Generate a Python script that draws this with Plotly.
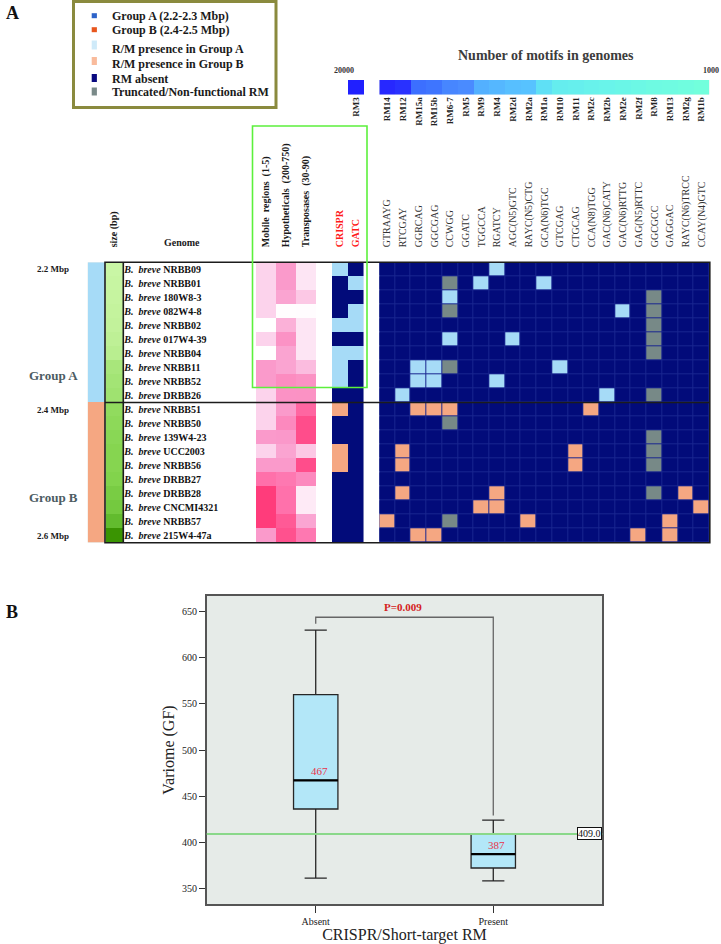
import plotly.graph_objects as go

W, H = 721, 944
SERIF = "Liberation Serif, Times New Roman, serif"

# ---------------- data ----------------
genomes = ["NRBB09", "NRBB01", "180W8-3", "082W4-8", "NRBB02", "017W4-39", "NRBB04",
           "NRBB11", "NRBB52", "DRBB26", "NRBB51", "NRBB50", "139W4-23", "UCC2003",
           "NRBB56", "DRBB27", "DRBB28", "CNCMI4321", "NRBB57", "215W4-47a"]
groups = ["A"] * 10 + ["B"] * 10
genome_size_mbp = [2.24, 2.25, 2.26, 2.27, 2.28, 2.29, 2.30, 2.34, 2.35, 2.36,
                   2.40, 2.41, 2.42, 2.43, 2.43, 2.44, 2.46, 2.47, 2.51, 2.60]
mobile_regions = [2, 2, 2, 2, 1, 2, 1, 3, 3, 2, 2, 2, 3, 2, 3, 4, 5, 5, 5, 3]
hypotheticals = [475, 475, 450, 205, 420, 500, 450, 450, 520, 500,
                 475, 530, 480, 450, 475, 585, 610, 610, 670, 695]
transposases = [39, 39, 48, 31, 39, 39, 39, 51, 63, 63,
                78, 85, 85, 48, 85, 66, 37, 37, 57, 72]
pink_labels = ["Mobile\u00a0\u00a0regions\u00a0\u00a0(1-5)",
               "Hypotheticals\u00a0\u00a0(200-750)",
               "Transposases\u00a0\u00a0(30-90)"]
pink_ranges = [(1, 5), (200, 750), (30, 90)]

crispr_gatc_labels = ["CRISPR", "GATC"]
motifs = ["GTRAAYG", "RTCGAY", "GGRCAG", "GGCGAG", "CCWGG", "GGATC", "TGGCCA", "RGATCY",
          "AGC(N5)GTC", "RAYC(N5)CTG", "GCA(N6)TGC", "GTCGAG", "CTGCAG", "CCA(N8)TGG",
          "GAC(N6)CATY", "GAC(N6)RTTG", "GAG(N5)RTTC", "GGCGCC", "GAGGAC",
          "RAYC(N6)TRCC", "CCAY(N4)GTC"]
rm_names = ["RM14", "RM12", "RM15a", "RM15b", "RM6-7", "RM5", "RM9", "RM4", "RM2d", "RM2a",
            "RM1a", "RM10", "RM11", "RM2c", "RM2b", "RM2e", "RM2f", "RM8", "RM13", "RM2g", "RM1b"]
motif_counts = [18000, 17500, 14000, 13500, 12000, 11500, 9000, 8500, 8000, 7800,
                5500, 4000, 3800, 3400, 3200, 2800, 2500, 2000, 1800, 1400, 1000]
rm3_name = "RM3"
rm3_count = 20000

# P = present, T = truncated/non-functional, . = absent  (CRISPR, GATC | 21 motifs)
crispr_gatc_state = ["P.", ".P", "..", ".P", "PP", "..", "PP", "P.", "P.", "..",
                     "P.", "..", "..", "P.", "P.", "..", "..", "..", "..", ".."]
motif_state = [
    ".......P.............",
    "....T.P...P..........",
    "....P............T...",
    "....T..........P.T...",
    ".................T...",
    "....P...P........T...",
    ".................T...",
    "..PPT......P.........",
    "..PP...P.............",
    ".P............P..T...",
    "..PPP........P.......",
    "....T................",
    ".................T...",
    ".P..........P....T...",
    ".P..........P....T...",
    ".....................",
    ".P.....P.........T.P.",
    "......PP............P",
    "P...T....P........P..",
    "..PP............P.P..",
]

box_groups = ["Absent", "Present"]
box_q1 = [436, 372]
box_median = [467, 387]
box_q3 = [560, 409]
box_low = [361, 358]
box_high = [630, 424]
ref_value = 409.0
p_text = "P=0.009"
bracket_y = [637, 644, 644, 429]
BOX_W = 0.25

# ---------------- colours ----------------
NAVY = "#020b7a"
LBLUE = "#a6dbf7"
SALMON = "#f5a782"
GRAY = "#778987"
state_scale = [[0, NAVY], [1 / 6, NAVY], [1 / 6, LBLUE], [0.5, LBLUE],
               [0.5, SALMON], [5 / 6, SALMON], [5 / 6, GRAY], [1, GRAY]]
pink_scale = [[0, "#ffffff"], [0.25, "#fcd3ec"], [0.5, "#fa9acb"], [0.75, "#ff70aa"], [1, "#ff3c7b"]]
green_scale = [[0, "#d0faae"], [0.2, "#c2f29b"], [0.4, "#9fe270"], [0.6, "#82d34c"],
               [0.8, "#5db82a"], [1, "#3a9402"]]
motif_scale = [[0, "#72ffdc"], [0.1, "#6af6e8"], [0.22, "#60e4f4"], [0.35, "#58c4ff"],
               [0.55, "#4a8cff"], [0.7, "#3a6cff"], [0.9, "#2626ff"], [1, "#2020ff"]]


def code(ch, grp):
    if ch == "T":
        return 3
    if ch == "P":
        return 1 if grp == "A" else 2
    return 0


def px(x):
    return x / W


def py(y):
    return 1 - y / H


def xd(a, b):
    return [a / W, b / W]


def yd(top, bottom):
    return [1 - bottom / H, 1 - top / H]


ROW_TOP, ROW_BOT = 262.3, 542.7

fig = go.Figure()

# group column
fig.add_trace(go.Heatmap(x=["grp"], y=genomes, z=[[1 if g == "A" else 2] for g in groups],
                         colorscale=state_scale, zmin=0, zmax=3, showscale=False,
                         xaxis="x", yaxis="y", hoverinfo="skip"))
# size column
fig.add_trace(go.Heatmap(x=["size\u00a0(bp)"], y=genomes, z=[[s] for s in genome_size_mbp],
                         colorscale=green_scale, zmin=2.2, zmax=2.6, showscale=False,
                         xaxis="x2", yaxis="y", hoverinfo="skip"))
# pink columns: each column scaled to its own range
pink_values = [mobile_regions, hypotheticals, transposases]
pink_z = [[(pink_values[j][i] - pink_ranges[j][0]) / (pink_ranges[j][1] - pink_ranges[j][0])
           for j in range(3)] for i in range(len(genomes))]
fig.add_trace(go.Heatmap(x=pink_labels, y=genomes, z=pink_z,
                         colorscale=pink_scale, zmin=0, zmax=1, showscale=False,
                         xaxis="x3", yaxis="y", hoverinfo="skip"))
# CRISPR / GATC
fig.add_trace(go.Heatmap(x=crispr_gatc_labels, y=genomes,
                         z=[[code(c, g) for c in row] for row, g in zip(crispr_gatc_state, groups)],
                         colorscale=state_scale, zmin=0, zmax=3, showscale=False,
                         xaxis="x4", yaxis="y", hoverinfo="skip"))
# motifs
fig.add_trace(go.Heatmap(x=motifs, y=genomes,
                         z=[[code(c, g) for c in row] for row, g in zip(motif_state, groups)],
                         colorscale=state_scale, zmin=0, zmax=3, showscale=False,
                         xgap=1, ygap=1, xaxis="x5", yaxis="y", hoverinfo="skip"))
# motif count strip
fig.add_trace(go.Heatmap(x=rm_names, y=["n"], z=[motif_counts], colorscale=motif_scale,
                         zmin=1000, zmax=20000, showscale=False, xaxis="x6", yaxis="y2",
                         hoverinfo="skip"))
fig.add_trace(go.Heatmap(x=[rm3_name], y=["n"], z=[[rm3_count]], colorscale=motif_scale,
                         zmin=1000, zmax=20000, showscale=False, xaxis="x7", yaxis="y2",
                         hoverinfo="skip"))

# ---------------- box plot ----------------
for i, gname in enumerate(box_groups):
    fig.add_trace(go.Box(x=[gname], q1=[box_q1[i]], median=[box_median[i]], q3=[box_q3[i]],
                         lowerfence=[box_low[i]], upperfence=[box_high[i]],
                         fillcolor="#b3e7f8", line=dict(color="#262626", width=1.3),
                         width=BOX_W, whiskerwidth=0.5, boxpoints=False,
                         xaxis="x8", yaxis="y3", hoverinfo="skip"))
fig.add_trace(go.Scatter(x=["Absent", "Absent", "Present", "Present"], y=bracket_y,
                         mode="lines", line=dict(color="#666666", width=1.3),
                         xaxis="x8", yaxis="y3", hoverinfo="skip"))

tf_bold = dict(family=SERIF, size=10, color="#1a1a1a", weight="bold")
top_axis_common = dict(type="category", side="top", anchor="y", tickangle=-90,
                       ticks="outside", ticklen=12, tickcolor="rgba(0,0,0,0)",
                       showgrid=False, zeroline=False, showline=False, fixedrange=True)

fig.update_layout(
    width=W, height=H, margin=dict(l=0, r=0, t=0, b=0), autosize=False,
    paper_bgcolor="white", plot_bgcolor="#e6ebe8", showlegend=False,
    yaxis=dict(domain=yd(ROW_TOP, ROW_BOT), type="category", autorange="reversed",
               anchor="free", position=px(123.3), side="right", ticks="",
               tickvals=genomes,
               ticktext=["<i>B.\u00a0\u00a0breve</i>\u00a0" + g for g in genomes],
               tickfont=dict(family=SERIF, size=10, color="#111", weight="bold"),
               showgrid=False, zeroline=False, showline=False),
    xaxis=dict(domain=xd(87.7, 105), anchor="y", type="category", showticklabels=False,
               ticks="", showgrid=False, zeroline=False),
    xaxis2=dict(domain=xd(105.5, 123), tickfont=tf_bold, **top_axis_common),
    xaxis3=dict(domain=xd(256, 316), tickfont=tf_bold, categoryorder="array",
                categoryarray=pink_labels, **top_axis_common),
    xaxis4=dict(domain=xd(332, 363.5), tickfont=dict(family=SERIF, size=10, color="#ff1a1a",
                                                     weight="bold"), **top_axis_common),
    xaxis5=dict(domain=xd(379.3, 709.3), tickfont=dict(family=SERIF, size=10, color="#333"),
                **top_axis_common),
    yaxis2=dict(domain=yd(80, 94.5), anchor="x6", type="category", showticklabels=False,
                ticks="", showgrid=False, zeroline=False),
    xaxis6=dict(domain=xd(379.3, 709.3), anchor="y2", type="category", tickangle=-90,
                ticks="", tickfont=dict(family=SERIF, size=9, color="#222", weight="bold"),
                showgrid=False, zeroline=False),
    xaxis7=dict(domain=xd(348, 364), anchor="y2", type="category", tickangle=-90,
                ticks="", tickfont=dict(family=SERIF, size=9, color="#222", weight="bold"),
                showgrid=False, zeroline=False),
    xaxis8=dict(domain=xd(206.7, 602.3), anchor="y3", type="category",
                categoryorder="array", categoryarray=box_groups, range=[-0.614, 1.614],
                showline=True, mirror=True, linecolor="#555", linewidth=1.6,
                ticks="outside", ticklen=7, tickcolor="#333", showgrid=False, zeroline=False,
                tickfont=dict(family=SERIF, size=10, color="#222"),
                title=dict(text="CRISPR/Short-target RM", standoff=4,
                           font=dict(family=SERIF, size=16, color="#222"))),
    yaxis3=dict(domain=yd(595.7, 904.3), anchor="x8", range=[332.6, 667.4],
                tickvals=[350, 400, 450, 500, 550, 600, 650],
                showline=True, mirror=True, linecolor="#555", linewidth=1.6,
                ticks="outside", ticklen=6, tickcolor="#333", showgrid=False, zeroline=False,
                tickfont=dict(family=SERIF, size=10, color="#222"),
                title=dict(text="Variome\u00a0(GF)", standoff=3,
                           font=dict(family=SERIF, size=16, color="#222"))),
)

shapes = []
annotations = []

# background under motif grid (grid lines)
shapes.append(dict(type="rect", xref="x5 domain", yref="y domain", x0=0, x1=1, y0=0, y1=1,
                   fillcolor="#1a2690", line=dict(width=0), layer="below"))
# frame around genome table
shapes.append(dict(type="rect", xref="paper", yref="y domain", x0=px(105), x1=px(709.8),
                   y0=0, y1=1, line=dict(color="#1c1c1c", width=1.6)))
shapes.append(dict(type="line", xref="paper", yref="y domain", x0=px(123.3), x1=px(123.3),
                   y0=0, y1=1, line=dict(color="#1c1c1c", width=1.6)))
# group separator
sep = groups.index("B") - 0.5
shapes.append(dict(type="line", xref="paper", yref="y", x0=px(105), x1=px(709.8),
                   y0=sep, y1=sep, line=dict(color="#1c1c1c", width=1.6)))
# green highlight box
shapes.append(dict(type="rect", xref="paper", yref="paper", x0=px(252.5), x1=px(367),
                   y0=py(387.5), y1=py(126), line=dict(color="#5cf03c", width=1.6)))
# legend box
shapes.append(dict(type="rect", xref="paper", yref="paper", x0=px(73.5), x1=px(276),
                   y0=py(107.5), y1=py(1.5), line=dict(color="#8a8a3e", width=3)))

legend_items = [
    ("Group A (2.2-2.3 Mbp)", "#2d63c9", 15.7, 5, 15.5),
    ("Group B (2.4-2.5 Mbp)", "#e8561e", 29.7, 5, 29.5),
    ("R/M presence in Group A", "#cfeaf9", 45, 9, 48.5),
    ("R/M presence in Group B", "#f9bb9c", 61, 8, 64),
    ("RM absent", "#0a0a80", 78, 8, 78.7),
    ("Truncated/Non-functional RM", "#7a8a89", 91.5, 8, 92.3),
]
for text, col, sy, sh, ty in legend_items:
    shapes.append(dict(type="rect", xref="paper", yref="paper", x0=px(91.7), x1=px(96.9),
                       y0=py(sy + sh / 2), y1=py(sy - sh / 2), fillcolor=col, line=dict(width=0)))
    annotations.append(dict(xref="paper", yref="paper", x=px(110), y=py(ty), text=text,
                            xanchor="left", yanchor="middle", showarrow=False,
                            font=dict(family=SERIF, size=12, color="#1a1a1a", weight="bold")))

# reference line in box plot
shapes.append(dict(type="line", xref="x8 domain", yref="y3", x0=0, x1=1, y0=ref_value,
                   y1=ref_value, line=dict(color="#8ad88a", width=2)))
# thicker median lines
for i, m in enumerate(box_median):
    shapes.append(dict(type="line", xref="x8", yref="y3", x0=i - BOX_W / 2, x1=i + BOX_W / 2,
                       y0=m, y1=m, line=dict(color="#000000", width=2.2)))
fig.update_layout(shapes=shapes)

# panel letters
annotations.append(dict(xref="paper", yref="paper", x=px(4), y=py(13), text="A",
                        xanchor="left", yanchor="middle", showarrow=False,
                        font=dict(family=SERIF, size=18, color="#111", weight="bold")))
annotations.append(dict(xref="paper", yref="paper", x=px(4), y=py(612), text="B",
                        xanchor="left", yanchor="middle", showarrow=False,
                        font=dict(family=SERIF, size=18, color="#111", weight="bold")))
# colour strip title and ends
annotations.append(dict(xref="paper", yref="paper", x=px(545.5), y=py(56),
                        xanchor="center", yanchor="middle",
                        text="Number of motifs in genomes", showarrow=False,
                        font=dict(family=SERIF, size=14, color="#3c3c3c", weight="bold")))
annotations.append(dict(xref="paper", yref="paper", x=px(343.5), y=py(71), text=str(rm3_count),
                        xanchor="center", yanchor="middle", showarrow=False,
                        font=dict(family=SERIF, size=8, color="#333", weight="bold")))
annotations.append(dict(xref="paper", yref="paper", x=px(701), y=py(71),
                        text=str(min(motif_counts)), xanchor="left", yanchor="middle",
                        showarrow=False,
                        font=dict(family=SERIF, size=8, color="#333", weight="bold")))
# header "Genome"
annotations.append(dict(xref="paper", yref="paper", x=px(181.5), y=py(243), text="Genome",
                        xanchor="center", yanchor="middle", showarrow=False, font=tf_bold))
# size markers
for lab, idx in [("2.2 Mbp", 0), ("2.4 Mbp", 10), ("2.6 Mbp", 19)]:
    annotations.append(dict(xref="paper", yref="y", x=px(53.5), y=idx, text=lab,
                            xanchor="center", yanchor="middle", showarrow=False,
                            font=dict(family=SERIF, size=9, color="#1a1a1a", weight="bold")))
for lab, yy in [("Group A", 7.55), ("Group B", 16.3)]:
    annotations.append(dict(xref="paper", yref="y", x=px(54), y=yy, text=lab,
                            xanchor="center", yanchor="middle", showarrow=False,
                            font=dict(family=SERIF, size=13, color="#4d5c63", weight="bold")))
# box plot labels
for i, gname in enumerate(box_groups):
    annotations.append(dict(xref="x8", yref="y3", x=i + 0.02, y=box_median[i],
                            text=str(box_median[i]), showarrow=False, xanchor="center",
                            yanchor="bottom", yshift=1,
                            font=dict(family=SERIF, size=11, color="#e8334a")))
annotations.append(dict(xref="x8", yref="y3", x=0.49, y=655.5, text=p_text, showarrow=False,
                        xanchor="center", yanchor="middle",
                        font=dict(family=SERIF, size=11, color="#d42020", weight="bold")))
annotations.append(dict(xref="x8 domain", yref="y3", x=1, y=ref_value, text=f"{ref_value:.1f}",
                        xanchor="right", yanchor="middle", showarrow=False, bgcolor="white",
                        bordercolor="#111", borderwidth=1, borderpad=0,
                        font=dict(family=SERIF, size=10, color="#111")))
fig.update_layout(annotations=annotations)

fig.write_html("out.html", config={"displayModeBar": False},
               post_script="document.body.style.margin='0';document.body.style.overflow='hidden';")
